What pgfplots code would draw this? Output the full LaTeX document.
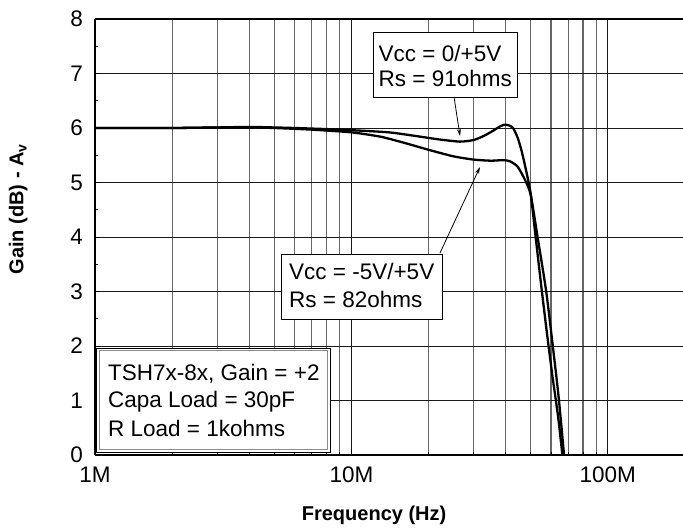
\documentclass[border=0pt]{standalone}
\usepackage{fontspec}
\setmainfont{Liberation Sans}
\setsansfont{Liberation Sans}
\usepackage{pgfplots}
\pgfplotsset{compat=1.18}
\usetikzlibrary{arrows.meta}

\pgfplotstableread{
f g
1e6 6.00
1.5e6 6.00
2e6 6.00
3e6 6.01
4e6 6.02
5e6 6.01
6e6 6.00
8e6 5.98
1e7 5.96
1.4e7 5.92
1.8e7 5.85
2.2e7 5.79
2.65e7 5.75
3e7 5.78
3.3e7 5.86
3.6e7 5.96
3.8e7 6.03
3.95e7 6.06
4.1e7 6.05
4.27e7 6.00
4.45e7 5.82
4.61e7 5.58
4.8e7 5.22
5e7 4.80
5.2e7 4.10
5.5e7 3.10
5.8e7 2.20
6.1e7 1.40
6.4e7 0.70
6.65e7 0.00
6.8e7 -0.40
}\rsninetyone

\pgfplotstableread{
f g
1e6 6.00
2e6 6.00
3e6 6.01
4e6 6.01
5e6 6.00
7e6 5.97
1e7 5.92
1.3e7 5.84
1.6e7 5.73
2e7 5.60
2.5e7 5.48
3e7 5.42
3.5e7 5.40
3.9e7 5.41
4.15e7 5.39
4.45e7 5.29
4.75e7 5.05
5e7 4.78
5.3e7 4.05
5.75e7 3.00
6.1e7 2.00
6.4e7 1.15
6.6e7 0.50
6.75e7 0.00
6.9e7 -0.40
}\rseightytwo

\newcommand{\bigfont}{\fontsize{22.5bp}{28.3bp}\selectfont}
\newcommand{\labfont}{\fontsize{20bp}{24bp}\selectfont\bfseries}

\begin{document}
\begin{tikzpicture}
\path[use as bounding box] (-95bp,-76bp) rectangle (588bp,455bp);
\begin{axis}[
  at={(0,0)}, anchor=south west,
  scale only axis, width=590bp, height=436bp,
  xmode=log, xmin=1e6, xmax=2e8,
  ymin=0, ymax=8,
  xtick={1e6,1e7,1e8}, xticklabels={1M,10M,100M},
  minor xtick={2e6,3e6,4e6,5e6,6e6,7e6,8e6,9e6,2e7,3e7,4e7,5e7,6e7,7e7,8e7,9e7},
  ytick={0,1,...,8},
  minor ytick={0.5,1.5,...,7.5},
  axis lines*=left,
  axis line style={line width=1.6bp, black},
  tick align=inside,
  major tick length=5bp, minor tick length=3bp,
  tick style={black, line width=0.8bp},
  xmajorgrids, xminorgrids, ymajorgrids,
  major grid style={black!90, line width=0.9bp},
  minor grid style={black!60, line width=1.2bp},
  /pgf/number format/assume math mode=true,
  ticklabel style={font=\bigfont},
  yticklabel style={inner sep=0pt, xshift=-12bp},
  xticklabel style={inner sep=0pt, yshift=-12bp},
  clip=false,
]
\begin{scope}
\clip (rel axis cs:0,0) rectangle (rel axis cs:1,1);
\addplot[black, line width=2.3bp, smooth, tension=0.4] table[x=f, y=g] {\rsninetyone};
\addplot[black, line width=2.3bp, smooth, tension=0.4] table[x=f, y=g] {\rseightytwo};
\end{scope}

\draw[line width=1.6bp, black] (rel axis cs:0,1) -- (rel axis cs:1,1);

% axis titles
\node[font=\labfont, inner sep=0pt, anchor=north] at (rel axis cs:0.473,-0.117) {Frequency (Hz)};
\node[font=\labfont, inner sep=0pt, anchor=center, rotate=90] at (rel axis cs:-0.13,0.564) {Gain (dB) - A\textsubscript{v}};

% box 1
\draw[black, line width=0.9bp, fill=white] (rel axis cs:0.4712,0.9702) rectangle (rel axis cs:0.7153,0.8211);
\node[anchor=base west, inner sep=0pt, font=\bigfont] at (rel axis cs:0.4805,0.9030) {Vcc = 0/+5V};
\node[anchor=base west, inner sep=0pt, font=\bigfont] at (rel axis cs:0.4805,0.8447) {Rs = 91ohms};
\draw[black, line width=0.8bp, -{Stealth[length=7bp, width=4bp]}] (rel axis cs:0.6085,0.8211) -- (rel axis cs:0.6186,0.7317);

% box 2
\draw[black, line width=0.9bp, fill=white] (rel axis cs:0.3153,0.4610) rectangle (rel axis cs:0.5881,0.3119);
\node[anchor=base west, inner sep=0pt, font=\bigfont] at (rel axis cs:0.3288,0.4014) {Vcc = -5V/+5V};
\node[anchor=base west, inner sep=0pt, font=\bigfont] at (rel axis cs:0.3288,0.3388) {Rs = 82ohms};
\draw[black, line width=0.8bp, -{Stealth[length=7bp, width=4bp]}] (rel axis cs:0.5847,0.4633) -- (rel axis cs:0.6525,0.6606);

% box 3
\draw[black, line width=0.9bp, fill=white] (rel axis cs:0.0017,0.2454) rectangle (rel axis cs:0.3983,0.0069);
\draw[black!45, line width=0.7bp] (rel axis cs:0.0068,0.2400) rectangle (rel axis cs:0.3932,0.0120);
\node[anchor=base west, inner sep=0pt, font=\bigfont] at (rel axis cs:0.0220,0.1720) {TSH7x-8x, Gain = +2};
\node[anchor=base west, inner sep=0pt, font=\bigfont] at (rel axis cs:0.0220,0.1078) {Capa Load = 30pF};
\node[anchor=base west, inner sep=0pt, font=\bigfont] at (rel axis cs:0.0220,0.0420) {R Load = 1kohms};
\end{axis}
\end{tikzpicture}
\end{document}
